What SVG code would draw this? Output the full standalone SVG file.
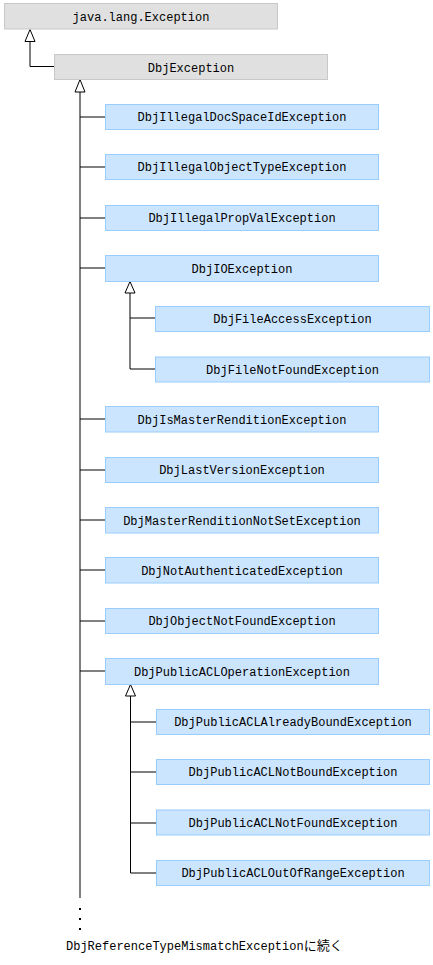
<svg xmlns="http://www.w3.org/2000/svg" width="433" height="965" viewBox="0 0 433 965">
<style>
.g rect{fill:#e0e0e0;stroke:#c8c8c8;stroke-width:1}
.b rect{fill:#cce5ff;stroke:#99ccff;stroke-width:1}
text{font-family:"Liberation Mono","Noto Sans CJK JP",monospace;font-size:12px;fill:#000;text-anchor:middle}
.c line,.c polyline{stroke:#000;stroke-width:1;fill:none}
.c polygon{fill:#fff;stroke:#000;stroke-width:1}
</style>
<rect width="433" height="965" fill="#fff"/>
<g class="c" id="connectors">
<polyline points="30,41.5 30,66.5 54.5,66.5"/>
<polygon points="30,29.5 25,41.5 35,41.5"/>
<line x1="80" y1="92" x2="80" y2="898"/>
<polygon points="80,79.5 75,92 85,92"/>
<line x1="80" y1="117" x2="105.5" y2="117"/>
<line x1="80" y1="167" x2="105.5" y2="167"/>
<line x1="80" y1="218" x2="105.5" y2="218"/>
<line x1="80" y1="268" x2="105.5" y2="268"/>
<line x1="80" y1="419" x2="105.5" y2="419"/>
<line x1="80" y1="470" x2="105.5" y2="470"/>
<line x1="80" y1="520" x2="105.5" y2="520"/>
<line x1="80" y1="570" x2="105.5" y2="570"/>
<line x1="80" y1="621" x2="105.5" y2="621"/>
<line x1="80" y1="671" x2="105.5" y2="671"/>
<polyline points="130,293 130,369 155.5,369"/>
<line x1="130" y1="318" x2="155.5" y2="318"/>
<polygon points="130,281.5 125,293 135,293"/>
<polyline points="130.5,696 130.5,873 156.5,873"/>
<line x1="130.5" y1="722" x2="156.5" y2="722"/>
<line x1="130.5" y1="772" x2="156.5" y2="772"/>
<line x1="130.5" y1="823" x2="156.5" y2="823"/>
<polygon points="130.5,684.5 125.5,696 135.5,696"/>
</g>
<g fill="#000">
<rect x="79" y="908" width="2" height="2"/>
<rect x="79" y="918" width="2" height="2"/>
<rect x="79" y="928" width="2" height="2"/>
</g>
<g id="n_java" class="g"><rect x="4.5" y="3.5" width="273" height="25.5"/><text x="141" y="20.5">java.lang.Exception</text></g>
<g id="n_dbj" class="g"><rect x="54.5" y="54.5" width="273" height="25"/><text x="191" y="71.5">DbjException</text></g>
<g id="n1" class="b"><rect x="105.5" y="104.5" width="273" height="25"/><text x="242" y="121">DbjIllegalDocSpaceIdException</text></g>
<g id="n2" class="b"><rect x="105.5" y="154.5" width="273" height="25"/><text x="242" y="171">DbjIllegalObjectTypeException</text></g>
<g id="n3" class="b"><rect x="105.5" y="205.5" width="273" height="25"/><text x="242" y="222">DbjIllegalPropValException</text></g>
<g id="n4" class="b"><rect x="105.5" y="255.5" width="273" height="26"/><text x="242" y="272.5">DbjIOException</text></g>
<g id="n4a" class="b"><rect x="155.5" y="306.5" width="274" height="25"/><text x="292.5" y="323">DbjFileAccessException</text></g>
<g id="n4b" class="b"><rect x="155.5" y="357" width="274" height="25"/><text x="292.5" y="373.5">DbjFileNotFoundException</text></g>
<g id="n5" class="b"><rect x="105.5" y="406.5" width="273" height="25.5"/><text x="242" y="423.5">DbjIsMasterRenditionException</text></g>
<g id="n6" class="b"><rect x="105.5" y="457.5" width="273" height="25"/><text x="242" y="474">DbjLastVersionException</text></g>
<g id="n7" class="b"><rect x="105.5" y="507.5" width="273" height="25.5"/><text x="242" y="524.5">DbjMasterRenditionNotSetException</text></g>
<g id="n8" class="b"><rect x="105.5" y="557.5" width="273" height="25.5"/><text x="242" y="574.5">DbjNotAuthenticatedException</text></g>
<g id="n9" class="b"><rect x="105.5" y="608.5" width="273" height="25"/><text x="242" y="625">DbjObjectNotFoundException</text></g>
<g id="n10" class="b"><rect x="105.5" y="658.5" width="273" height="26"/><text x="242" y="675.5">DbjPublicACLOperationException</text></g>
<g id="n10a" class="b"><rect x="156.5" y="709.5" width="273" height="25"/><text x="293" y="726">DbjPublicACLAlreadyBoundException</text></g>
<g id="n10b" class="b"><rect x="156.5" y="759.5" width="273" height="25"/><text x="293" y="776">DbjPublicACLNotBoundException</text></g>
<g id="n10c" class="b"><rect x="156.5" y="810" width="273" height="25"/><text x="293" y="826.5">DbjPublicACLNotFoundException</text></g>
<g id="n10d" class="b"><rect x="156.5" y="860.5" width="273" height="25"/><text x="293" y="877">DbjPublicACLOutOfRangeException</text></g>
<text x="66" y="950" style="text-anchor:start">DbjReferenceTypeMismatchException<tspan font-size="13">に続く</tspan></text>
</svg>
